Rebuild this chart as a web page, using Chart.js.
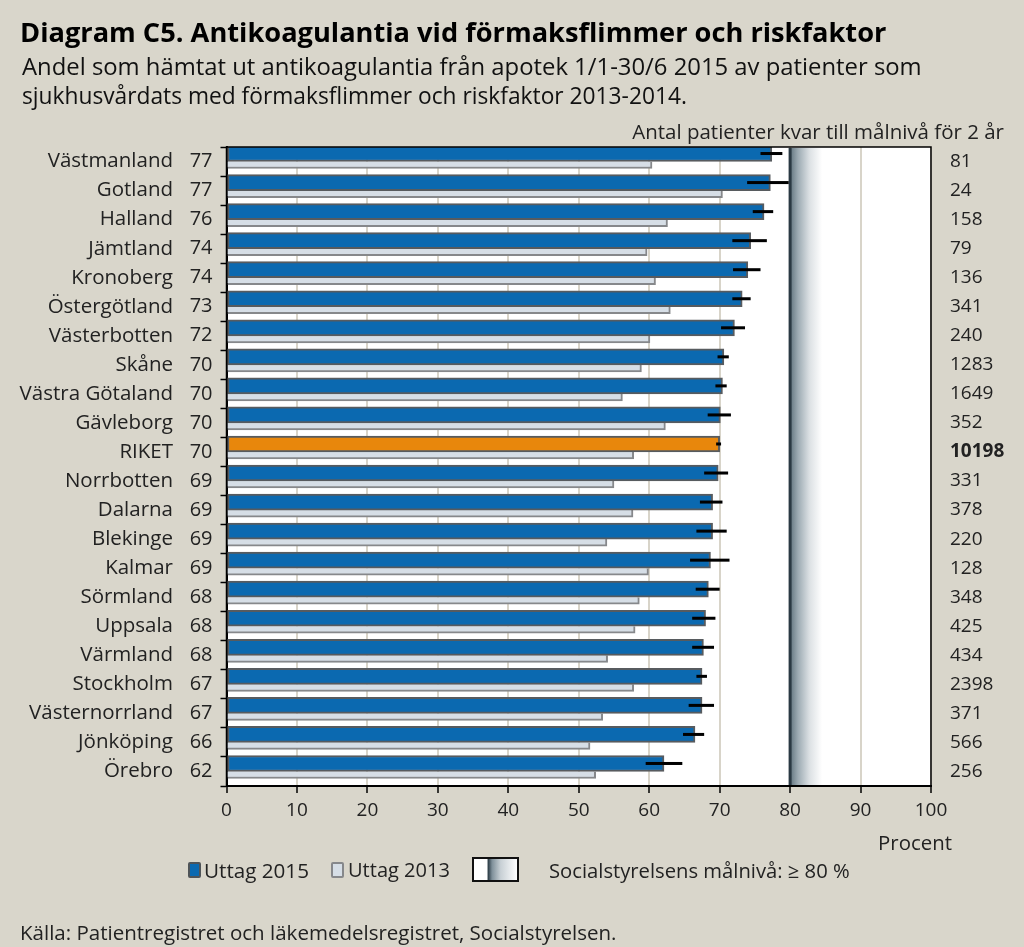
<!DOCTYPE html>
<html><head><meta charset="utf-8">
<script src="https://cdn.jsdelivr.net/npm/chart.js@4.4.1/dist/chart.umd.min.js"></script>
<style>
html,body{margin:0;padding:0;background:#d9d6cb;}
body{width:1024px;height:947px;position:relative;overflow:hidden;font-family:'Open Sans',sans-serif;color:#111;}
#c{position:absolute;left:0;top:0;}
.t{position:absolute;white-space:nowrap;}
.sq{position:absolute;box-sizing:border-box;border-radius:2px;}
</style></head><body>
<canvas id="c" width="1024" height="947"></canvas>
<div class="t fit" data-w="867" style="left:20px;top:17px;font-size:24px;font-weight:bold;line-height:30px;color:#000;">Diagram C5. Antikoagulantia vid förmaksflimmer och riskfaktor</div>
<div class="t fit" data-w="900" style="left:22px;top:52px;font-size:21px;line-height:29px;color:#111;">Andel som hämtat ut antikoagulantia från apotek 1/1-30/6 2015 av patienter som</div>
<div class="t fit" data-w="665" style="left:22px;top:81px;font-size:21px;line-height:29px;color:#111;">sjukhusvårdats med förmaksflimmer och riskfaktor 2013-2014.</div>
<div class="t fit" data-w="372" style="right:20px;top:118px;font-size:19px;line-height:26px;color:#222;">Antal patienter kvar till målnivå för 2 år</div>
<div class="t fit" data-w="74" style="right:72px;top:829px;font-size:19px;line-height:26px;color:#222;">Procent</div>
<div class="sq" style="left:188px;top:862px;width:13px;height:16px;background:#0b69b0;border:2px solid #4f5458;"></div>
<div class="t fit" data-w="105" style="left:204px;top:857px;font-size:19px;line-height:26px;color:#222;">Uttag 2015</div>
<div class="sq" style="left:331px;top:862px;width:13px;height:16px;background:#d6dee6;border:2px solid #86888b;"></div>
<div class="t fit" data-w="102" style="left:348px;top:857px;font-size:19px;line-height:26px;color:#222;">Uttag 2013</div>
<div class="sq" style="left:472px;top:857px;width:47px;height:25px;border:2px solid #111;border-radius:0;background:linear-gradient(to right,#fff 0,#fff 30%,#2e3e48 33%,#7f909a 42%,#c8d0d5 62%,#fff 100%);"></div>
<div class="t fit" data-w="301" style="left:549px;top:857px;font-size:19px;line-height:26px;color:#222;">Socialstyrelsens målnivå: ≥ 80 %</div>
<div class="t fit" data-w="597" style="left:20px;top:919px;font-size:19px;line-height:26px;color:#222;">Källa: Patientregistret och läkemedelsregistret, Socialstyrelsen.</div>
<script>
// ---- data ----
const regions = ['Västmanland','Gotland','Halland','Jämtland','Kronoberg','Östergötland','Västerbotten','Skåne','Västra Götaland','Gävleborg','RIKET','Norrbotten','Dalarna','Blekinge','Kalmar','Sörmland','Uppsala','Värmland','Stockholm','Västernorrland','Jönköping','Örebro'];
const shownPct = ['77','77','76','74','74','73','72','70','70','70','70','69','69','69','69','68','68','68','67','67','66','62'];
const uttag2015 = [77.4,77.2,76.3,74.4,74.0,73.2,72.1,70.6,70.4,70.1,70.0,69.8,69.0,69.0,68.7,68.4,68.0,67.7,67.5,67.5,66.5,62.1];
const uttag2013 = [60.4,70.4,62.6,59.7,60.9,63.0,60.1,58.9,56.2,62.3,57.8,55.0,57.7,54.0,59.9,58.6,58.0,54.1,57.8,53.4,51.6,52.4];
const errLow  = [75.8,73.9,74.7,71.8,71.9,71.8,70.2,69.7,69.4,68.3,69.5,67.8,67.2,66.7,65.8,66.6,66.1,66.1,66.7,65.6,64.8,59.5];
const errHigh = [78.9,79.8,77.6,76.7,75.8,74.4,73.6,71.3,71.0,71.6,70.2,71.2,70.4,71.0,71.4,70.0,69.4,69.2,68.2,69.2,67.8,64.7];
const remaining = ['81','24','158','79','136','341','240','1283','1649','352','10198','331','378','220','128','348','425','434','2398','371','566','256'];
const totalLabel = 'RIKET';
const targetLevel = 80;
const xMin = 0, xMax = 100, xStep = 10;

// fit HTML texts to measured widths
document.querySelectorAll('.fit').forEach(el => {
  const w = el.getBoundingClientRect().width;
  const fs = parseFloat(getComputedStyle(el).fontSize);
  el.style.fontSize = (fs * (+el.dataset.w) / w) + 'px';
});

Chart.defaults.font.family = "'Open Sans', sans-serif";
Chart.defaults.color = '#222';

const BLUE = '#0b69b0', ORANGE = '#e8870c';

const plotBg = {
  id: 'plotBg',
  beforeDraw(chart) {
    const {ctx, chartArea: a} = chart;
    ctx.save(); ctx.fillStyle = '#fff';
    ctx.fillRect(a.left, a.top, a.right - a.left, a.bottom - a.top);
    ctx.restore();
  }
};
const targetZone = {
  id: 'targetZone',
  beforeDatasetsDraw(chart) {
    const {ctx, chartArea: a, scales: {x}} = chart;
    const x0 = x.getPixelForValue(targetLevel);
    const top = a.top + 1, h = a.bottom - a.top - 2;
    ctx.save();
    const g = ctx.createLinearGradient(x0, 0, x0 + 32, 0);
    g.addColorStop(0, '#62757f');
    g.addColorStop(0.25, '#9dabb3');
    g.addColorStop(0.6, '#dbe0e3');
    g.addColorStop(1, '#ffffff');
    ctx.fillStyle = g;
    ctx.fillRect(x0, top, 32, h);
    ctx.fillStyle = '#2a3943';
    ctx.fillRect(x0 - 1.5, top, 3, h);
    ctx.restore();
  }
};
const errorBars = {
  id: 'errorBars',
  afterDatasetsDraw(chart) {
    const {ctx, scales: {x}} = chart;
    const meta = chart.getDatasetMeta(0);
    ctx.save(); ctx.fillStyle = '#000';
    meta.data.forEach((bar, i) => {
      const x1 = x.getPixelForValue(errLow[i]);
      const x2 = x.getPixelForValue(errHigh[i]);
      ctx.fillRect(x1, bar.y - 1.5, x2 - x1, 3);
    });
    ctx.restore();
  }
};
const frame = {
  id: 'frame',
  afterDraw(chart) {
    const {ctx, chartArea: a} = chart;
    ctx.save(); ctx.strokeStyle = '#000'; ctx.lineWidth = 1.5;
    ctx.strokeRect(a.left, a.top, a.right - a.left, a.bottom - a.top);
    ctx.lineWidth = 2;
    ctx.beginPath(); ctx.moveTo(a.left, a.bottom); ctx.lineTo(a.right, a.bottom); ctx.stroke();
    ctx.restore();
  }
};

new Chart(document.getElementById('c'), {
  type: 'bar',
  data: {
    labels: shownPct,
    datasets: [
      { label: 'Uttag 2015', data: uttag2015,
        backgroundColor: regions.map(r => r === totalLabel ? ORANGE : BLUE),
        borderColor: '#575b5f', borderWidth: 2, borderSkipped: false, barThickness: 16 },
      { label: 'Uttag 2013', data: uttag2013,
        backgroundColor: '#d6dee6', borderColor: '#86888b',
        borderWidth: {top: 0, right: 2, bottom: 2, left: 0}, borderSkipped: false, barThickness: 7 }
    ]
  },
  options: {
    indexAxis: 'y',
    responsive: false,
    animation: false,
    layout: { padding: { top: 147, bottom: 121, left: 0, right: 0 } },
    plugins: { legend: { display: false }, tooltip: { enabled: false }, title: { display: false } },
    scales: {
      x: { type: 'linear', min: xMin, max: xMax, position: 'bottom', stacked: false,
        ticks: { stepSize: xStep, font: { size: 19 }, color: '#222', padding: 6 },
        grid: { color: '#d8d4c9', lineWidth: 2, tickColor: '#000', tickLength: 7, tickWidth: 1.5 },
        border: { color: '#000', width: 2 },
        afterFit(s) { s.height = 40; } },
      y: { type: 'category', labels: shownPct, position: 'left', offset: true, weight: 0, stacked: false,
        grid: { display: true, offset: true, drawOnChartArea: false, tickLength: 6, tickColor: '#000', tickWidth: 1.5 },
        border: { color: '#000', width: 2 },
        ticks: { font: { size: 20 }, color: '#222', padding: 8, autoSkip: false },
        afterFit(s) { s.width = 46.5; } },
      yNames: { type: 'category', labels: regions, position: 'left', offset: true, weight: 1,
        grid: { display: false, drawTicks: false, offset: true }, border: { display: false },
        ticks: { font: { size: 20.5 }, color: '#222', padding: 7, autoSkip: false },
        afterFit(s) { s.width = 180; } },
      yRight: { type: 'category', labels: remaining, position: 'right', offset: true,
        grid: { display: false, drawTicks: false, offset: true }, border: { display: false },
        ticks: { font: c => ({ size: 19, weight: c.index === regions.indexOf(totalLabel) ? 'bold' : 'normal' }),
                 color: '#222', padding: 19, autoSkip: false },
        afterFit(s) { s.width = 93; } }
    }
  },
  plugins: [plotBg, targetZone, errorBars, frame]
});
</script>
</body></html>
